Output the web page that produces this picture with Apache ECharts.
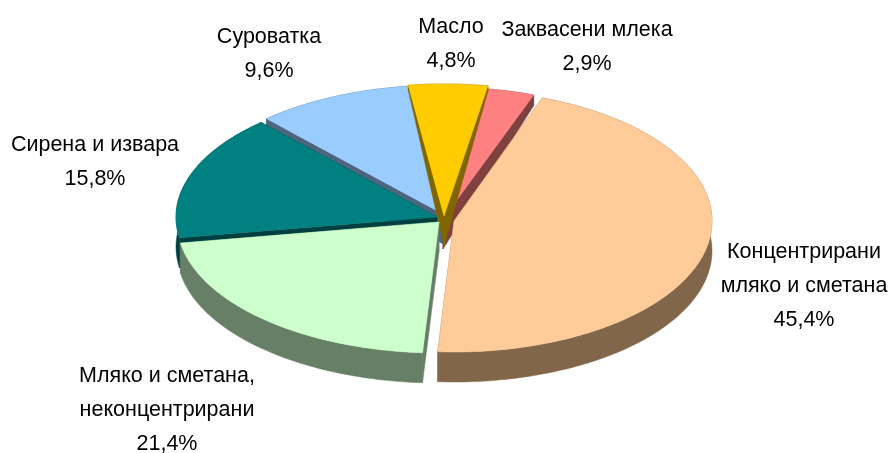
<!DOCTYPE html>
<html><head><meta charset="utf-8">
<style>html,body{margin:0;padding:0;background:#fff}#c{width:891px;height:453px}</style>
<script src="https://cdn.jsdelivr.net/npm/echarts@6/dist/echarts.min.js"></script>
</head><body><div id="c"></div>
<script>
// Data, clockwise from the boundary next to "Заквасени млека"
var categories = ['Концентрирани\nмляко и сметана','Мляко и сметана,\nнеконцентрирани','Сирена и извара','Суроватка','Масло','Заквасени млека'];
var values = [45.4, 21.4, 15.8, 9.6, 4.8, 2.9];
var topColors = ['#FFCC99','#CCFFCC','#008080','#99CCFF','#FFCC00','#FF8080'];
var wallColors = ['#826649','#667F66','#004040','#4D6680','#806600','#804040'];
// Layout
var centers = [[454,221],[439,222],[437,217],[443,214],[444,216],[443,219]];
var radii = [[258,131],[262,131],[261,128],[262,129],[265,132],[265,132]];
var stackOrder = [6,5,3,2,4,1];
var labelAnchors = [[804,235],[167,359],[95,128],[269,20],[451,10],[587,13]];
var START_DEG = 20, DEPTH = 30;

var total = values.reduce(function(a,b){return a+b;},0);
function depthAt(y){ return Math.min(DEPTH, 5 + Math.max(0,y-85)*0.58); }

function renderSlice(params, api){
  var i = params.dataIndex;
  var before = 0;
  for (var k=0;k<i;k++) before += values[k];
  var a0 = START_DEG + before/total*360;
  var a1 = a0 + api.value(0)/total*360;
  var c = centers[i], r = radii[i];
  var rim = [], n = Math.max(2, Math.ceil(a1-a0));
  for (var s=0;s<=n;s++){
    var t = (a0 + (a1-a0)*s/n)*Math.PI/180;
    rim.push([c[0]+r[0]*Math.sin(t), c[1]-r[1]*Math.cos(t)]);
  }
  function down(p){ return [p[0], p[1]+depthAt(p[1])]; }
  var apex = [c[0],c[1]];
  var z = stackOrder[i]*10;
  var dark = {fill:wallColors[i], stroke:wallColors[i], lineWidth:0.5};
  var wallRim = rim.concat(rim.slice().reverse().map(down));
  var first = rim[0], last = rim[rim.length-1];
  var kids = [
    {type:'polygon', z2:z, silent:true, shape:{points:wallRim}, style:dark},
    {type:'polygon', z2:z, silent:true, shape:{points:[apex,first,down(first),down(apex)]}, style:dark},
    {type:'polygon', z2:z, silent:true, shape:{points:[apex,last,down(last),down(apex)]}, style:dark},
    {type:'polygon', z2:z+1, silent:true, shape:{points:[apex].concat(rim)}, style:{fill:topColors[i], stroke:topColors[i], lineWidth:0.5}},
    {type:'text', z2:200, silent:true, x:labelAnchors[i][0], y:labelAnchors[i][1], style:{
      text: categories[i]+'\n'+values[i].toFixed(1).replace('.',',')+'%',
      x:0, y:0, align:'center', verticalAlign:'top',
      font:'21.5px "Liberation Sans", Arial, sans-serif', lineHeight:34, fill:'#000'
    }}
  ];
  return {type:'group', children:kids};
}

var chart = echarts.init(document.getElementById('c'), null, {renderer:'canvas'});
chart.setOption({
  animation:false,
  backgroundColor:'#fff',
  series:[{
    type:'custom',
    coordinateSystem:'none',
    renderItem:renderSlice,
    encode:{value:0},
    data:values.map(function(v){return [v];})
  }]
});
</script></body></html>
